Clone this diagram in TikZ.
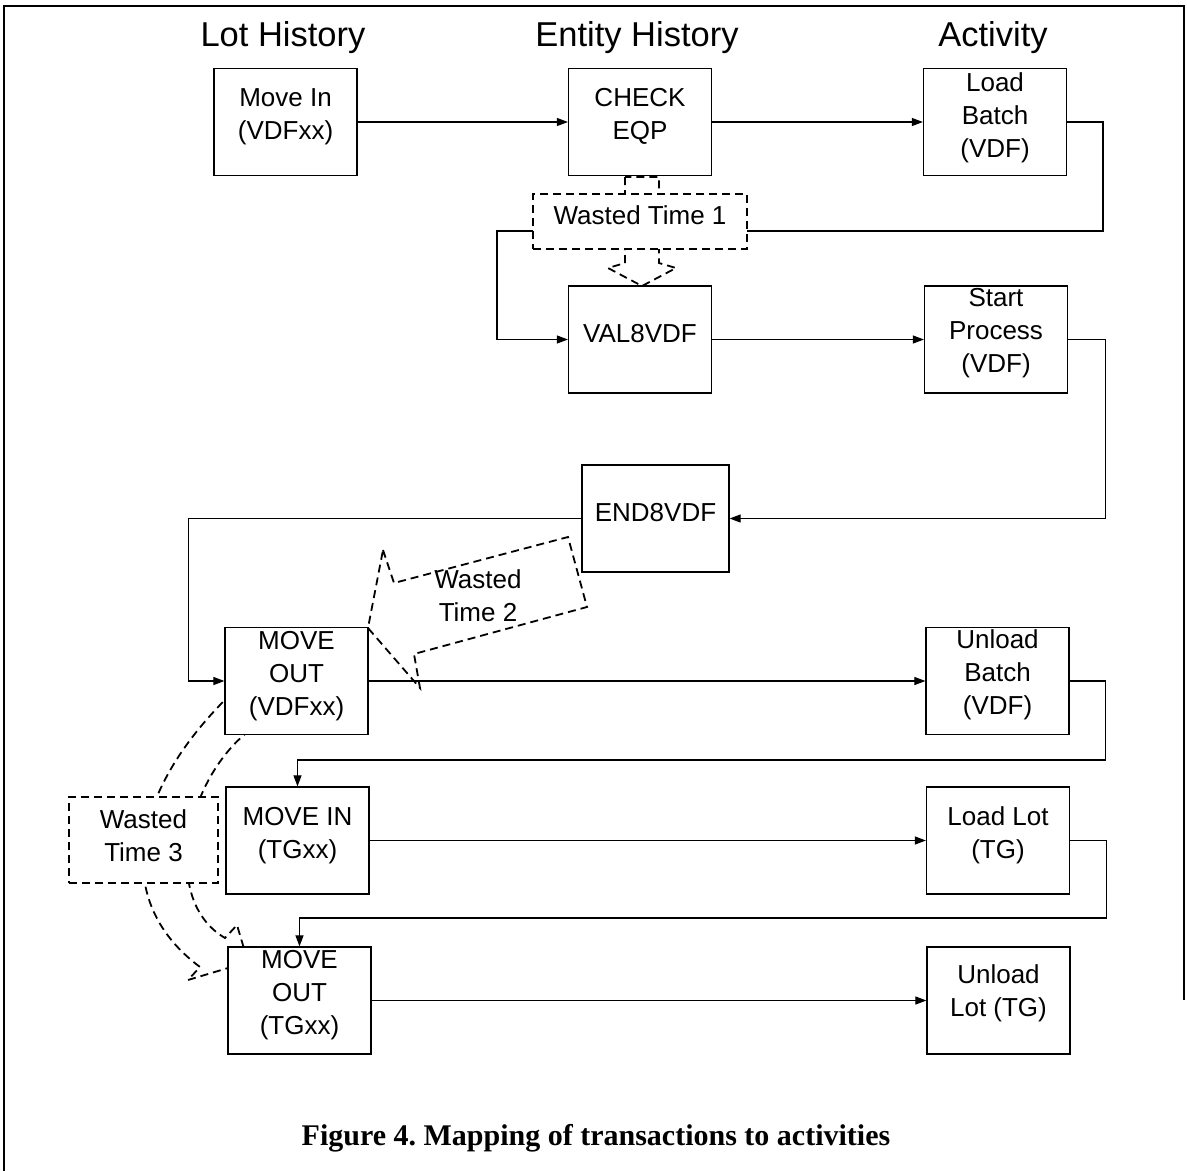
\documentclass[tikz,border=0pt]{standalone}
\usepackage{fontspec}
\setmainfont{Liberation Sans}
\newfontfamily\capfont{Liberation Serif}
\usetikzlibrary{arrows.meta,backgrounds}
\tikzset{
  box/.style={draw, line width=1.2pt, fill=white, minimum width=143pt, minimum height=107pt, inner sep=0pt},
  wbox/.style={draw, dash pattern=on 8pt off 5pt, line width=1.8pt, fill=white, inner sep=0pt},
  txt/.style={font=\fontsize{26}{33}\selectfont, align=center, inner sep=0pt},
  head/.style={font=\fontsize{34.5}{40}\selectfont, inner sep=0pt},
  conn/.style={line width=1.1pt, -{Triangle[length=11pt,width=8pt]}},
  dsh/.style={dash pattern=on 8pt off 5pt, line width=1.8pt}
}
\frenchspacing
\begin{document}
\begin{tikzpicture}[x=1pt,y=-1pt]
\useasboundingbox (0,0) rectangle (1187,1171);
% frame
\draw[line width=2pt] (4,1171) -- (4,6) -- (1184,6) -- (1184,1000);
% headings
\node[head] (h1) at (283,38) {Lot History};
\node[head] (h2) at (637,38) {Entity History};
\node[head] (h3) at (993,38) {Activity};
% boxes
\node[box] (mi)  at (285.5,122) {};
\node[box] (ce)  at (640,122) {};
\node[box] (lb)  at (995,122) {};
\node[box] (val) at (640,339.5) {};
\node[box] (sp)  at (996,339.5) {};
\node[box, minimum width=147pt] (en) at (655.5,518.5) {};
\node[box] (mo1) at (296.5,681) {};
\node[box] (ub)  at (997.5,681) {};
\node[box] (mi2) at (297.5,840.5) {};
\node[box] (ll)  at (998,840.5) {};
\node[box] (mo2) at (299.5,1000.5) {};
\node[box] (ul)  at (998.5,1000.5) {};
% box texts
\node[txt] (mit)  at (285.5,116.5) {Move In\\(VDFxx)};
\node[txt] (cet)  at (640,116) {CHECK\\EQP};
\node[txt] (lbt)  at (995,118) {Load\\Batch\\(VDF)};
\node[txt] (valt) at (640,334) {VAL8VDF};
\node[txt] (spt)  at (996,333.5) {Start\\Process\\(VDF)};
\node[txt] (ent)  at (655.5,512.5) {END8VDF};
\node[txt] (mo1t) at (296.5,676) {MOVE\\OUT\\(VDFxx)};
\node[txt] (ubt)  at (997.5,675) {Unload\\Batch\\(VDF)};
\node[txt] (mi2t) at (297.5,835.5) {MOVE IN\\(TGxx)};
\node[txt] (llt)  at (998,835.5) {Load Lot\\(TG)};
\node[txt] (mo2t) at (299.5,995) {MOVE\\OUT\\(TGxx)};
\node[txt] (ult)  at (998.5,993.5) {Unload\\Lot (TG)};
% wasted time boxes
\node[wbox, minimum width=214pt, minimum height=55pt] (wt1) at (640,221.5) {};
\node[txt] (wt1t) at (640,215) {Wasted Time 1};
\node[wbox, minimum width=149pt, minimum height=86pt] (wt3) at (143.5,840) {};
\node[txt] (wt3t) at (143.5,835.5) {Wasted\\Time 3};
% wasted time 2 callout
\draw[dsh] (383,550) -- (394,583) -- (568,537) -- (587,607) -- (414,654) -- (420,688) -- (368,628) -- cycle;
\node[txt] (wt2t) at (478,596) {Wasted\\Time 2};
% helper coordinates
\coordinate (r1) at (1103,231);
\coordinate (l1) at (497,231);
\coordinate (k8) at (0,760);
\coordinate (k10) at (0,918);
\begin{scope}[on background layer]
% dashed block arrow 1
\draw[dsh] (625,177) -- (625,263) -- (608,268) -- (642,286) -- (676,268) -- (659,263) -- (659,177) -- cycle;
% dashed curved block arrow 3
\draw[dsh] (250,730) .. controls (185,780) and (160,900) .. (225,938) -- (237,925) -- (248,962) -- (188,980) -- (200,967) .. controls (110,900) and (130,790) .. (235,690) -- cycle;
% connectors
\draw[conn] (mi.east) -- (ce.west);
\draw[conn] (ce.east) -- (lb.west);
\draw[conn] (lb.east) -| (r1) -- (l1) |- (val.west);
\draw[conn] (val.east) -- (sp.west);
\draw[conn] (sp.east) -- ++(37,0) |- (en.east);
\draw[conn] (en.west) -- ++(-393,0) |- (mo1.west);
\draw[conn] (mo1.east) -- (ub.west);
\draw[conn] (ub.east) -- ++(36,0) |- (mi2.north |- k8) -- (mi2.north);
\draw[conn] (mi2.east) -- (ll.west);
\draw[conn] (ll.east) -- ++(36,0) |- (mo2.north |- k10) -- (mo2.north);
\draw[conn] (mo2.east) -- (ul.west);
\end{scope}
% caption
\node[font=\capfont\bfseries\fontsize{30}{36}\selectfont, inner sep=0pt] (cap) at (596,1138) {Figure 4. Mapping of transactions to activities};
\end{tikzpicture}
\end{document}
